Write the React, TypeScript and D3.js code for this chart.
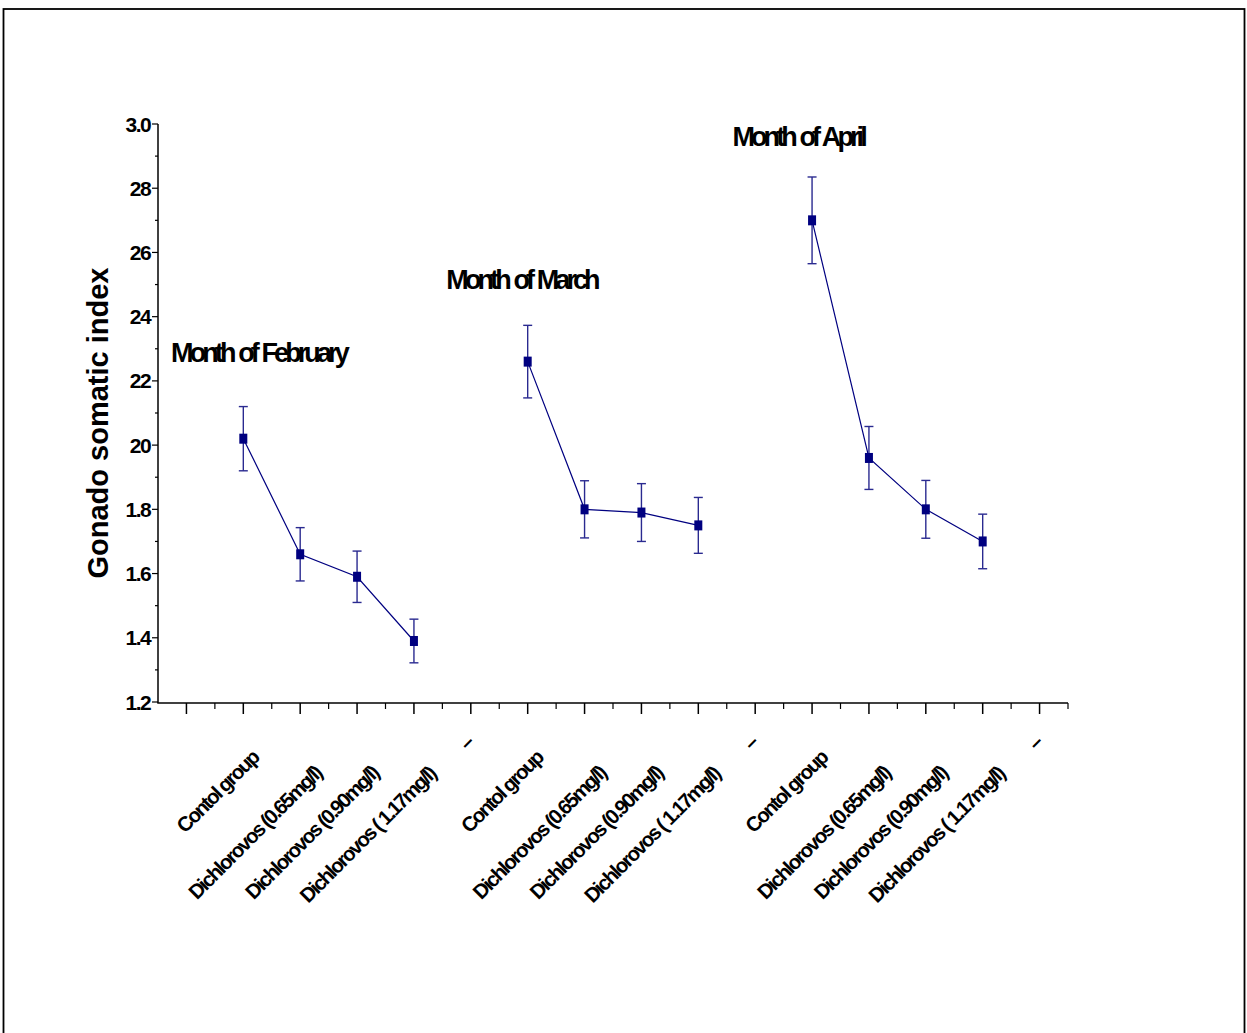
import React, { useEffect, useRef } from "react";
import * as d3 from "d3";

const categories = [
  "Contol group",
  "Dichlorovos (0.65mg/l)",
  "Dichlorovos (0.90mg/l)",
  "Dichlorovos ( 1.17mg/l)",
  "–",
];
const months = ["Month of February", "Month of March", "Month of April"];

const febMeans = [2.02, 1.66, 1.59, 1.39];
const febErr = [0.1, 0.083, 0.08, 0.068];
const marMeans = [2.26, 1.8, 1.79, 1.75];
const marErr = [0.113, 0.089, 0.09, 0.087];
const aprMeans = [2.7, 1.96, 1.8, 1.7];
const aprErr = [0.135, 0.098, 0.09, 0.085];

const yTickValues = [1.2, 1.4, 1.6, 1.8, 2.0, 2.2, 2.4, 2.6, 2.8, 3.0];
const yTickLabels = ["1.2", "1.4", "1.6", "1.8", "20", "22", "24", "26", "28", "3.0"];

// where each month caption sits, in (category index, y value)
const monthLabelAt = [
  [-1.27, 2.26],
  [3.57, 2.485],
  [8.6, 2.93],
];

const width = 1247;
const height = 1033;
const FONT = "'Liberation Sans', Arial, sans-serif";
const NAVY = "#000080";

const App = () => {
  const ref = useRef(null);

  function drawChart() {
    const svg = d3.select(ref.current);
    svg.selectAll("*").remove();

    const x = d3.scaleLinear().domain([-1.5, 14.5]).range([158, 1068]);
    const y = d3.scaleLinear().domain([1.2, 3.0]).range([702, 124]);

    // page frame
    svg
      .append("rect")
      .attr("x", 3.5)
      .attr("y", 9)
      .attr("width", 1241)
      .attr("height", 1040)
      .attr("fill", "none")
      .attr("stroke", "#000")
      .attr("stroke-width", 1.8);

    // y axis
    const yAxis = svg.append("g").attr("stroke", "#000");
    yAxis
      .append("line")
      .attr("x1", 158)
      .attr("x2", 158)
      .attr("y1", y(3.0))
      .attr("y2", y(1.2) + 1)
      .attr("stroke-width", 1.5);
    const yMinor = d3.range(1.3, 3.0, 0.2);
    yAxis
      .selectAll("line.minor")
      .data(yMinor)
      .join("line")
      .attr("class", "minor")
      .attr("x1", 155)
      .attr("x2", 158)
      .attr("y1", (d) => y(d))
      .attr("y2", (d) => y(d))
      .attr("stroke-width", 1.2);
    yAxis
      .selectAll("line.major")
      .data(yTickValues)
      .join("line")
      .attr("class", "major")
      .attr("x1", 152)
      .attr("x2", 158)
      .attr("y1", (d) => y(d))
      .attr("y2", (d) => y(d))
      .attr("stroke-width", 1.2);
    svg
      .append("g")
      .attr("font-family", FONT)
      .attr("font-weight", "bold")
      .attr("font-size", 21)
      .attr("letter-spacing", -1.6)
      .attr("text-anchor", "end")
      .selectAll("text")
      .data(yTickValues)
      .join("text")
      .attr("x", 150)
      .attr("y", (d) => y(d))
      .attr("dy", "0.36em")
      .text((d, i) => yTickLabels[i]);

    svg
      .append("text")
      .attr("transform", `translate(108,423) rotate(-90)`)
      .attr("text-anchor", "middle")
      .attr("font-family", FONT)
      .attr("font-weight", "bold")
      .attr("font-size", 29)
      .text("Gonado somatic index");

    // x axis
    const xAxis = svg.append("g").attr("stroke", "#000");
    xAxis
      .append("line")
      .attr("x1", 157.25)
      .attr("x2", 1068)
      .attr("y1", 703)
      .attr("y2", 703)
      .attr("stroke-width", 1.5);
    const xMajor = d3.range(-1, 15);
    const xMinor = d3.range(-0.5, 14, 1);
    xAxis
      .selectAll("line.major")
      .data(xMajor)
      .join("line")
      .attr("class", "major")
      .attr("x1", (d) => x(d))
      .attr("x2", (d) => x(d))
      .attr("y1", 703)
      .attr("y2", 714)
      .attr("stroke-width", 1.5);
    xAxis
      .selectAll("line.minor")
      .data(xMinor)
      .join("line")
      .attr("class", "minor")
      .attr("x1", (d) => x(d))
      .attr("x2", (d) => x(d))
      .attr("y1", 703)
      .attr("y2", 709)
      .attr("stroke-width", 1.2);
    xAxis
      .append("line")
      .attr("x1", 1068)
      .attr("x2", 1068)
      .attr("y1", 703)
      .attr("y2", 709)
      .attr("stroke-width", 1.2);

    const tickLabels = d3.range(15).map((i) => ({ i, text: categories[i % 5] }));
    const labels = svg
      .append("g")
      .attr("font-family", FONT)
      .attr("font-weight", "bold")
      .attr("font-size", 20.5)
      .attr("letter-spacing", -1.9)
      .attr("text-anchor", "middle")
      .selectAll("text")
      .data(tickLabels)
      .join("text")
      .attr("dy", "0.35em")
      .text((d) => d.text);
    labels.attr("transform", function (d) {
      const L = this.getComputedTextLength();
      const short = L < 20 ? 1 : 0;
      const cx = x(d.i) + 2.7 - 0.27 * L - 5 * short;
      const cy = 731.4 + 0.568 * L + 6 * short;
      return `translate(${cx},${cy}) rotate(-45)`;
    });

    // series
    const groups = [
      { means: febMeans, err: febErr },
      { means: marMeans, err: marErr },
      { means: aprMeans, err: aprErr },
    ];
    groups.forEach((g, gi) => {
      const pts = g.means.map((m, j) => ({ i: gi * 5 + j, m, e: g.err[j] }));
      const gEl = svg.append("g");
      gEl
        .append("path")
        .datum(pts)
        .attr("fill", "none")
        .attr("stroke", NAVY)
        .attr("stroke-width", 1.2)
        .attr(
          "d",
          d3
            .line()
            .x((d) => x(d.i))
            .y((d) => y(d.m))
        );
      const eb = gEl
        .selectAll("g.err")
        .data(pts)
        .join("g")
        .attr("class", "err")
        .attr("stroke", "#2a2a90")
        .attr("stroke-width", 1.4);
      eb.append("line")
        .attr("x1", (d) => x(d.i))
        .attr("x2", (d) => x(d.i))
        .attr("y1", (d) => y(d.m + d.e))
        .attr("y2", (d) => y(d.m - d.e));
      eb.append("line")
        .attr("x1", (d) => x(d.i) - 4.5)
        .attr("x2", (d) => x(d.i) + 4.5)
        .attr("y1", (d) => y(d.m + d.e))
        .attr("y2", (d) => y(d.m + d.e));
      eb.append("line")
        .attr("x1", (d) => x(d.i) - 4.5)
        .attr("x2", (d) => x(d.i) + 4.5)
        .attr("y1", (d) => y(d.m - d.e))
        .attr("y2", (d) => y(d.m - d.e));
      gEl
        .selectAll("rect")
        .data(pts)
        .join("rect")
        .attr("x", (d) => x(d.i) - 4)
        .attr("y", (d) => y(d.m) - 5)
        .attr("width", 8)
        .attr("height", 10)
        .attr("fill", NAVY);
    });

    // month captions
    svg
      .append("g")
      .attr("font-family", FONT)
      .attr("font-weight", "bold")
      .attr("font-size", 27)
      .attr("letter-spacing", -3.9)
      .attr("word-spacing", 2)
      .selectAll("text")
      .data(months)
      .join("text")
      .attr("x", (d, i) => x(monthLabelAt[i][0]))
      .attr("y", (d, i) => y(monthLabelAt[i][1]))
      .text((d) => d);
  }

  useEffect(() => {
    drawChart();
  }, []);

  return (
    <svg
      ref={ref}
      width={width}
      height={height}
      style={{ position: "absolute", left: 0, top: 0, background: "#fff" }}
    ></svg>
  );
};

export default App;
